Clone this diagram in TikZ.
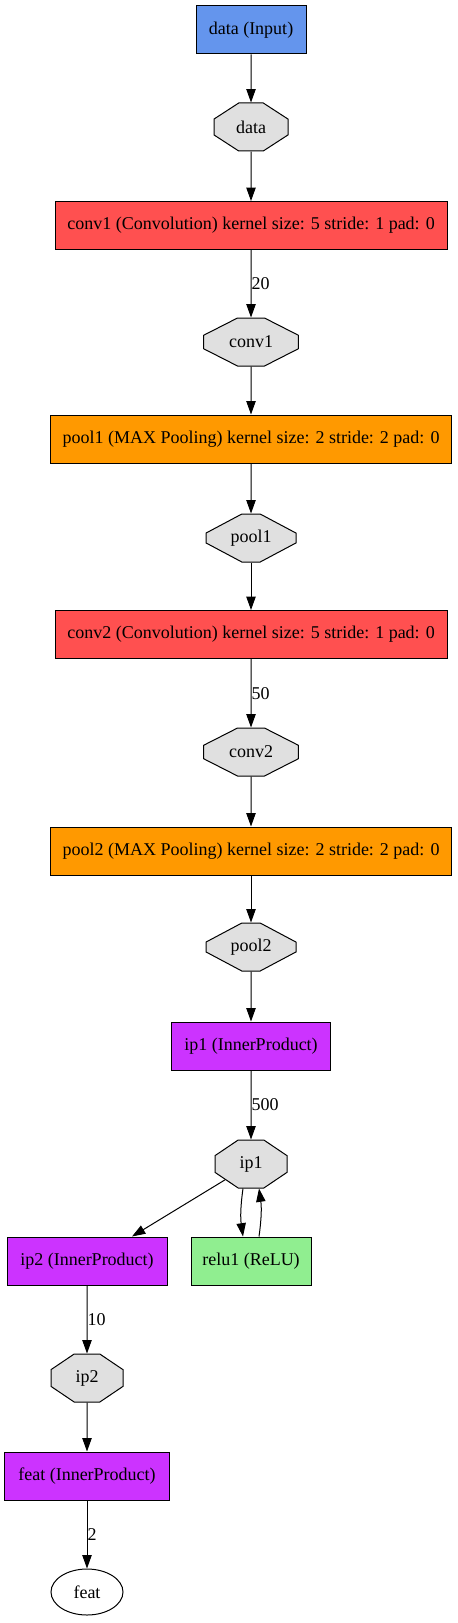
\documentclass[tikz,border=0pt]{standalone}
\usepackage{fontspec}
\setmainfont{Liberation Serif}
\usetikzlibrary{shapes.geometric,shapes.misc,arrows.meta}

\definecolor{inputcol}{HTML}{6495ED}
\definecolor{convcol}{HTML}{FF5050}
\definecolor{poolcol}{HTML}{FF9900}
\definecolor{ipcol}{HTML}{CC33FF}
\definecolor{relucol}{HTML}{90EE90}
\definecolor{blobcol}{HTML}{E0E0E0}

\tikzset{
    layer/.style={draw, rectangle, minimum height=36pt, inner sep=0pt, text centered, line width=0.75pt},
    blob/.style={draw, chamfered rectangle, fill=blobcol, minimum height=36pt, inner sep=0pt,
        chamfered rectangle ysep=10.5pt, line width=0.75pt},
    edge/.style={-{Triangle[length=10pt, width=7pt]}, line width=0.75pt},
    elabel/.style={anchor=west, inner sep=0pt}
}

\begin{document}
\begin{tikzpicture}[x=0.75pt, y=-0.75pt, font=\fontsize{13.5}{16}\selectfont]
    \useasboundingbox (0,0) rectangle (457,1623);

    \node[layer, fill=inputcol, minimum width=82.5pt] (input) at (251,30) {data (Input)};
    \node[blob, minimum width=55.5pt, chamfered rectangle xsep=16.3pt, chamfered rectangle angle=57] (data) at (251,127) {data};

    \node[layer, fill=convcol, minimum width=294pt] (conv1) at (251,225.5) {conv1 (Convolution) kernel size: 5 stride: 1 pad: 0};
    \node[blob, minimum width=71pt, chamfered rectangle xsep=20.8pt, chamfered rectangle angle=63] (conv1b) at (251,342) {conv1};

    \node[layer, fill=poolcol, minimum width=300.5pt] (pool1) at (251,439) {pool1 (MAX Pooling) kernel size: 2 stride: 2 pad: 0};
    \node[blob, minimum width=67.5pt, chamfered rectangle xsep=19.8pt, chamfered rectangle angle=62] (pool1b) at (251,538) {pool1};

    \node[layer, fill=convcol, minimum width=294pt] (conv2) at (251,634.5) {conv2 (Convolution) kernel size: 5 stride: 1 pad: 0};
    \node[blob, minimum width=71pt, chamfered rectangle xsep=20.8pt, chamfered rectangle angle=63] (conv2b) at (251,752) {conv2};

    \node[layer, fill=poolcol, minimum width=300.5pt] (pool2) at (251,851) {pool2 (MAX Pooling) kernel size: 2 stride: 2 pad: 0};
    \node[blob, minimum width=67.5pt, chamfered rectangle xsep=19.8pt, chamfered rectangle angle=62] (pool2b) at (251,947) {pool2};

    \node[layer, fill=ipcol, minimum width=119pt] (ip1) at (251,1046) {ip1 (InnerProduct)};
    \node[blob, minimum width=54pt, chamfered rectangle xsep=15.8pt, chamfered rectangle angle=56] (ip1b) at (251,1164) {ip1};

    \node[layer, fill=ipcol, minimum width=120pt] (ip2) at (87,1261) {ip2 (InnerProduct)};
    \node[layer, fill=relucol, minimum width=90pt] (relu1) at (251,1261) {relu1 (ReLU)};
    \node[blob, minimum width=54pt, chamfered rectangle xsep=15.8pt, chamfered rectangle angle=56] (ip2b) at (87,1378) {ip2};

    \node[layer, fill=ipcol, minimum width=124pt] (feat) at (87,1476) {feat (InnerProduct)};
    \node[draw, ellipse, fill=white, minimum width=54pt, minimum height=34.5pt, inner sep=0pt, line width=0.75pt] (featb) at (87,1592) {feat};

    \draw[edge] (input) -- (data);
    \draw[edge] (data) -- (conv1);
    \draw[edge] (conv1) -- node[elabel] (l20) {20} (conv1b);
    \draw[edge] (conv1b) -- (pool1);
    \draw[edge] (pool1) -- (pool1b);
    \draw[edge] (pool1b) -- (conv2);
    \draw[edge] (conv2) -- node[elabel] (l50) {50} (conv2b);
    \draw[edge] (conv2b) -- (pool2);
    \draw[edge] (pool2) -- (pool2b);
    \draw[edge] (pool2b) -- (ip1);
    \draw[edge] (ip1) -- node[elabel] (l500) {500} (ip1b);
    \draw[edge] (ip1b) -- ([xshift=33.75pt]ip2.north);
    \draw[edge] ([xshift=-6pt]ip1b.south) to[bend right=8] ([xshift=-6pt]relu1.north);
    \draw[edge] ([xshift=6pt]relu1.north) to[bend right=8] ([xshift=6pt]ip1b.south);
    \draw[edge] (ip2) -- node[elabel] (l10) {10} (ip2b);
    \draw[edge] (ip2b) -- (feat);
    \draw[edge] (feat) -- node[elabel] (l2) {2} (featb);
\end{tikzpicture}
\end{document}
